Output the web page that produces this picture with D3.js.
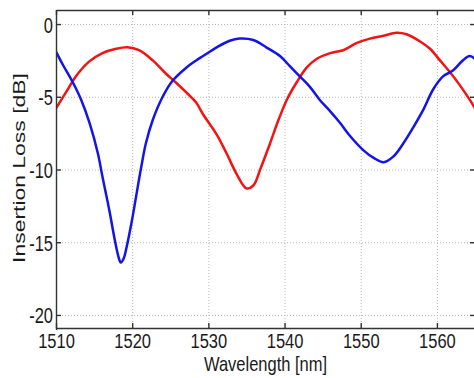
<!DOCTYPE html>
<html>
<head>
<meta charset="utf-8">
<script src="https://cdn.jsdelivr.net/npm/d3@7"></script>
<style>
  body { margin: 0; background: #fff; }
  svg { display: block; font-family: "Liberation Sans", Arial, sans-serif; }
</style>
</head>
<body>
<figure id="chart" style="margin:0"></figure>
<script>
// values
const blueWavelength = [1510, 1510.9, 1512.2, 1513.3, 1514.4, 1515.5, 1516.1, 1517.0, 1517.7, 1518.2, 1518.5, 1518.9, 1519.2, 1519.9,
  1520.5, 1521.2, 1521.8, 1522.7, 1524.0, 1525.3, 1527.1, 1528.4, 1529.3, 1531.1, 1532.8, 1534.1, 1535.9, 1537.6, 1539.4,
  1540.7, 1542.0, 1543.3, 1544.6, 1546.0, 1547.3, 1548.6, 1550.4, 1551.7, 1553.0, 1554.3, 1555.6, 1556.9, 1558.2, 1559.5,
  1560.8, 1562.1, 1563.4, 1564.3, 1565];
const blueLoss = [-1.9, -2.8, -4.0, -5.2, -6.8, -8.9, -10.5, -12.8, -14.8, -16.0, -16.4, -16.1, -15.5, -13.7,
  -11.9, -9.8, -8.2, -6.6, -5.0, -3.9, -3.0, -2.5, -2.2, -1.6, -1.15, -1.0, -1.1, -1.6, -2.2,
  -2.9, -3.6, -4.3, -5.2, -6.0, -6.8, -7.7, -8.7, -9.2, -9.5, -9.1, -8.2, -7.1, -5.9, -4.5,
  -3.6, -3.2, -2.5, -2.2, -2.4];

const redWavelength = [1510, 1511.3, 1512.6, 1514.3, 1516.1, 1517.9, 1519.4, 1520.9, 1522.7, 1524.4, 1525.7, 1527.1, 1528.4,
  1529.3, 1531.1, 1532.4, 1533.7, 1535.0, 1535.9, 1536.8, 1538.1, 1539.2, 1540.3, 1541.6, 1542.9, 1544.2, 1546.0,
  1547.7, 1549.5, 1551.2, 1553.0, 1554.7, 1556.0, 1557.8, 1559.1, 1560.4, 1561.7, 1563.0, 1564.3, 1565];
const redLoss = [-5.8, -4.7, -3.6, -2.6, -2.0, -1.7, -1.6, -1.8, -2.5, -3.4, -4.0, -4.7, -5.4,
  -6.2, -7.6, -8.9, -10.3, -11.3, -11.1, -10.0, -8.2, -6.6, -5.2, -4.0, -3.0, -2.4, -2.0,
  -1.8, -1.3, -1.0, -0.8, -0.6, -0.7, -1.2, -1.7, -2.5, -3.3, -4.2, -5.2, -5.8];

const xTicks = [1510, 1520, 1530, 1540, 1550, 1560];
const yTicks = [0, -5, -10, -15, -20];

const width = 474, height = 378;
const plotLeft = 56, plotRight = 475, plotTop = 10, plotBottom = 328;

const svg = d3.select("#chart").append("svg")
  .attr("width", width)
  .attr("height", height);

const x = d3.scaleLinear().domain([1510, 1565]).range([plotLeft, plotRight]);
const y = d3.scaleLinear().domain([-21, 1]).range([plotBottom + 1.5, plotTop - 0.5]);

// grid
svg.append("g")
  .attr("transform", `translate(0,${plotBottom})`)
  .call(d3.axisBottom(x).tickValues(xTicks.slice(1)).tickSize(-(plotBottom - plotTop)).tickFormat(""))
  .call(g => g.select(".domain").remove())
  .selectAll("line")
  .attr("class", "grid")
  .attr("stroke", "#b8b8b8")
  .attr("stroke-dasharray", "1,2");

svg.append("g")
  .attr("transform", `translate(${plotLeft},0)`)
  .call(d3.axisLeft(y).tickValues(yTicks).tickSize(-(plotRight - plotLeft)).tickFormat(""))
  .call(g => g.select(".domain").remove())
  .selectAll("line")
  .attr("class", "grid")
  .attr("stroke", "#b8b8b8")
  .attr("stroke-dasharray", "1,2");

svg.append("clipPath").attr("id", "plot")
  .append("rect")
  .attr("x", plotLeft).attr("y", plotTop)
  .attr("width", plotRight - plotLeft).attr("height", plotBottom - plotTop);

const line = d3.line()
  .x(d => x(d[0]))
  .y(d => y(d[1]))
  .curve(d3.curveCatmullRom.alpha(0.5));

svg.append("path")
  .datum(redWavelength.map((w, i) => [w, redLoss[i]]))
  .attr("clip-path", "url(#plot)")
  .attr("fill", "none")
  .attr("stroke", "#f01414")
  .attr("stroke-width", 2.5)
  .attr("d", line);

svg.append("path")
  .datum(blueWavelength.map((w, i) => [w, blueLoss[i]]))
  .attr("clip-path", "url(#plot)")
  .attr("fill", "none")
  .attr("stroke", "#1414e6")
  .attr("stroke-width", 2.5)
  .attr("d", line);

// axes, ticks pointing inward
const xAxis = svg.append("g")
  .attr("transform", `translate(0,${plotBottom})`)
  .call(d3.axisBottom(x).tickValues(xTicks).tickSizeInner(-5).tickSizeOuter(0).tickFormat(d => String(d)));

xAxis.selectAll("text")
  .attr("y", 0).attr("dy", null)
  .attr("transform", "translate(0,20) scale(1,1.28)");

svg.append("g")
  .attr("transform", `translate(0,${plotTop})`)
  .call(d3.axisTop(x).tickValues(xTicks).tickSizeInner(-5).tickSizeOuter(0).tickFormat(""));

const yAxis = svg.append("g")
  .attr("transform", `translate(${plotLeft},0)`)
  .call(d3.axisLeft(y).tickValues(yTicks).tickSizeInner(-5).tickSizeOuter(0).tickFormat(d => String(d)));

yAxis.selectAll("text")
  .attr("x", 0).attr("dy", null)
  .attr("transform", "translate(-3,8) scale(1,1.34)");

svg.append("g")
  .attr("transform", `translate(${plotRight},0)`)
  .call(d3.axisRight(y).tickValues(yTicks).tickSizeInner(-5).tickSizeOuter(0).tickFormat(""));

svg.selectAll(".domain").attr("stroke", "#333").attr("stroke-width", 1.4);
svg.selectAll(".tick line:not(.grid)").attr("stroke", "#333").attr("stroke-width", 1.4);
svg.selectAll(".tick text").attr("font-size", 16.5).attr("fill", "#1a1a1a")
  .attr("font-family", "'Liberation Sans', Arial, sans-serif");

svg.append("text")
  .attr("transform", `translate(${(plotLeft + plotRight) / 2},371) scale(1,1.22)`)
  .attr("text-anchor", "middle")
  .attr("font-size", 16.5)
  .attr("fill", "#1a1a1a")
  .text("Wavelength [nm]");

svg.append("text")
  .attr("transform", "translate(25,168) rotate(-90) scale(1.39,1)")
  .attr("text-anchor", "middle")
  .attr("font-size", 16.5)
  .attr("fill", "#1a1a1a")
  .text("Insertion Loss [dB]");
</script>
</body>
</html>
